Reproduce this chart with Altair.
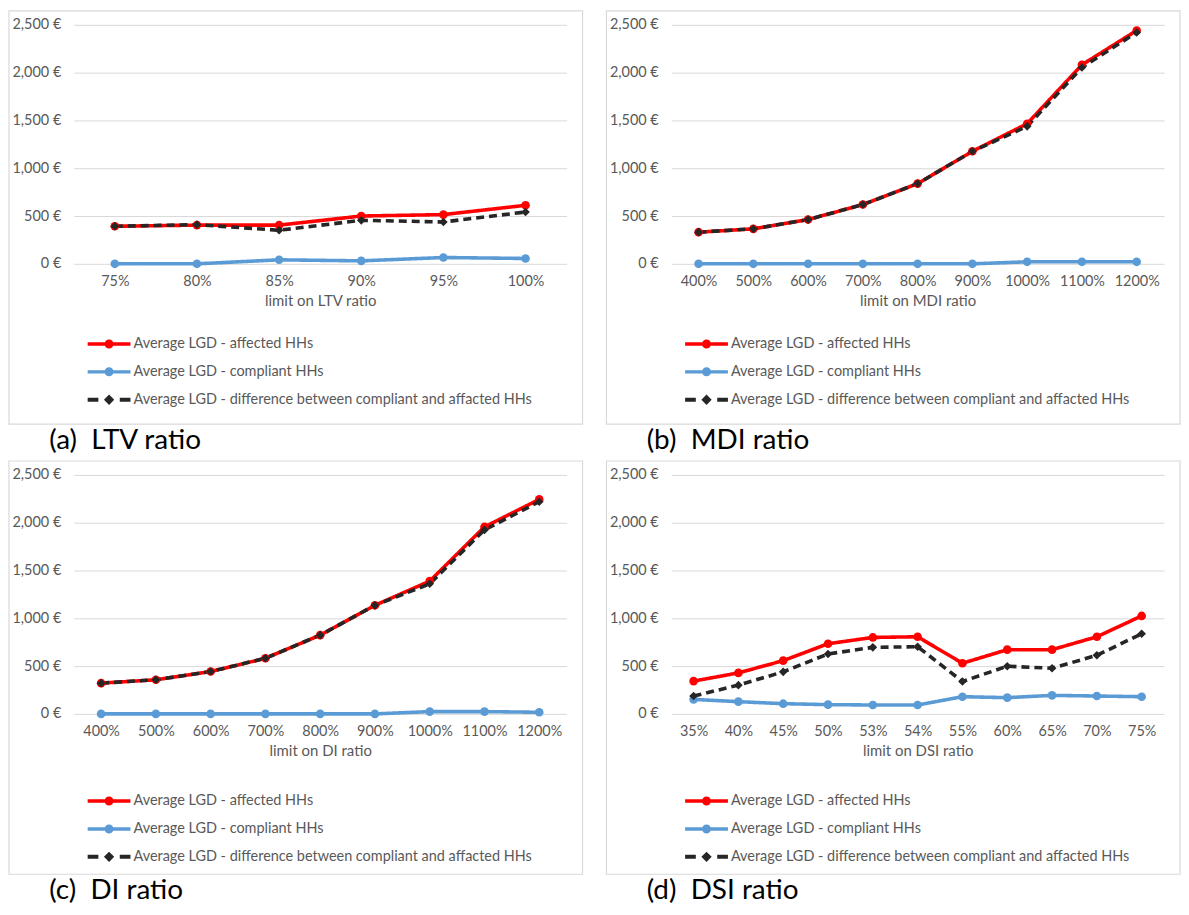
import altair as alt
import pandas as pd

SERIES = [
    "Average LGD - affected HHs",
    "Average LGD - compliant HHs",
    "Average LGD - difference between compliant and affacted HHs",
]
COLORS = ["#FF0000", "#5B9BD5", "#262626"]

# (a) LTV ratio
ltv_cats = ["75%", "80%", "85%", "90%", "95%", "100%"]
ltv_affected = [393, 405, 405, 500, 515, 612]
ltv_compliant = [0, 0, 42, 31, 66, 56]
ltv_diff = [393, 410, 351, 455, 438, 542]

# (b) MDI ratio
mdi_cats = ["400%", "500%", "600%", "700%", "800%", "900%", "1000%", "1100%", "1200%"]
mdi_affected = [331, 366, 463, 620, 839, 1177, 1466, 2082, 2441]
mdi_compliant = [0, 0, 0, 0, 0, 0, 21, 21, 21]
mdi_diff = [331, 366, 463, 620, 839, 1177, 1438, 2054, 2420]

# (c) DI ratio
di_cats = ["400%", "500%", "600%", "700%", "800%", "900%", "1000%", "1100%", "1200%"]
di_affected = [322, 357, 443, 582, 824, 1136, 1389, 1956, 2244]
di_compliant = [0, 0, 0, 0, 0, 0, 24, 24, 17]
di_diff = [322, 357, 443, 582, 824, 1136, 1361, 1925, 2220]

# (d) DSI ratio
dsi_cats = ["35%", "40%", "45%", "50%", "53%", "54%", "55%", "60%", "65%", "70%", "75%"]
dsi_affected = [343, 429, 557, 734, 800, 807, 530, 672, 672, 807, 1025]
dsi_compliant = [152, 128, 107, 97, 93, 93, 180, 170, 194, 187, 180]
dsi_diff = [187, 301, 440, 627, 696, 703, 339, 499, 478, 613, 838]

Y_TICKS = [0, 500, 1000, 1500, 2000, 2500]

FONT = "Lato"
GRAY = "#595959"
GRID = "#D9D9D9"
FS = 14.5

# legend symbols (line + marker), unit coordinates
LEG_LINE_DOT = (
    "M -1 -0.08 L 1 -0.08 L 1 0.08 L -1 0.08 Z "
    "M 0.21 0 A 0.21 0.21 0 1 1 -0.21 0 A 0.21 0.21 0 1 1 0.21 0 Z"
)
LEG_DASH_DIAMOND = (
    "M -1 -0.09 L -0.5 -0.09 L -0.5 0.09 L -1 0.09 Z "
    "M 0 -0.24 L 0.24 0 L 0 0.24 L -0.24 0 Z "
    "M 0.5 -0.09 L 1 -0.09 L 1 0.09 L 0.5 0.09 Z"
)
LEG_SHAPES = [LEG_LINE_DOT, LEG_LINE_DOT, LEG_DASH_DIAMOND]

W, H = 495, 240
FRAME_L, FRAME_R, FRAME_T, FRAME_B = -65, 511, -14, 401


def legend_def(ly):
    return alt.Legend(
        title=None,
        orient="none",
        legendX=14,
        legendY=ly,
        direction="vertical",
        symbolSize=1849,
        symbolOpacity=1,
        symbolStrokeWidth=0,
        labelFont=FONT,
        labelFontSize=FS,
        labelColor=GRAY,
        labelOffset=3,
        labelLimit=600,
        rowPadding=0,
    )


def panel(cats, affected, compliant, diff, xtitle, caption, ly):
    rows = []
    for s, vals in zip(SERIES, [affected, compliant, diff]):
        for c, v in zip(cats, vals):
            rows.append({"cat": c, "value": v, "series": s})
    df = pd.DataFrame(rows)

    x = alt.X(
        "cat:N",
        sort=cats,
        scale=alt.Scale(type="point", padding=0.5),
        axis=alt.Axis(
            title=xtitle,
            labelAngle=0,
            domain=False,
            ticks=False,
            labelPadding=11,
            labelFont=FONT,
            labelFontSize=FS,
            labelColor=GRAY,
            titleFont=FONT,
            titleFontSize=15,
            titleFontWeight="normal",
            titleColor=GRAY,
            titlePadding=5,
        ),
    )
    y = alt.Y(
        "value:Q",
        scale=alt.Scale(domain=[0, 2500]),
        axis=alt.Axis(
            title=None,
            values=Y_TICKS,
            labelExpr="format(datum.value, ',') + ' €'",
            domain=False,
            ticks=False,
            grid=True,
            gridColor=GRID,
            gridWidth=1,
            labelPadding=13,
            labelFont=FONT,
            labelFontSize=FS,
            labelColor=GRAY,
        ),
    )
    color_scale = alt.Scale(domain=SERIES, range=COLORS)
    base = alt.Chart(df)

    lines = base.mark_line(strokeWidth=3.6).encode(
        x=x,
        y=y,
        color=alt.Color("series:N", scale=color_scale, legend=None),
        strokeDash=alt.StrokeDash(
            "series:N",
            scale=alt.Scale(domain=SERIES, range=[[1, 0], [1, 0], [8, 5]]),
            legend=None,
        ),
    )
    points = base.mark_point(filled=True, size=75, opacity=1).encode(
        x=x,
        y=y,
        color=alt.Color("series:N", scale=color_scale, legend=None),
        shape=alt.Shape(
            "series:N",
            scale=alt.Scale(domain=SERIES, range=["circle", "circle", "diamond"]),
            legend=None,
        ),
    )
    legend_layer = base.mark_point(filled=True, size=1849, opacity=0).encode(
        x=x,
        y=y,
        color=alt.Color("series:N", scale=color_scale, legend=legend_def(ly)),
        shape=alt.Shape(
            "series:N",
            scale=alt.Scale(domain=SERIES, range=LEG_SHAPES),
            legend=legend_def(ly),
        ),
    )
    frame = (
        alt.Chart(pd.DataFrame({"f": [0]}))
        .mark_rect(fillOpacity=0, stroke=GRID, strokeWidth=1.2)
        .encode(
            x=alt.value(FRAME_L),
            x2=alt.value(FRAME_R),
            y=alt.value(FRAME_T),
            y2=alt.value(FRAME_B),
        )
    )
    return (
        alt.layer(frame, lines, points, legend_layer)
        .resolve_scale(color="independent", shape="independent", strokeDash="independent")
        .properties(
            width=W,
            height=H,
            title=alt.TitleParams(
                caption,
                orient="bottom",
                anchor="start",
                font=FONT,
                fontSize=28,
                fontWeight="normal",
                color="black",
                offset=2,
                dx=41,
            ),
        )
    )


pa = panel(ltv_cats, ltv_affected, ltv_compliant, ltv_diff, "limit on LTV ratio", "(a)\u00a0 LTV ratio", 299)
pb = panel(mdi_cats, mdi_affected, mdi_compliant, mdi_diff, "limit on MDI ratio", "(b)\u00a0 MDI ratio", 299)
pc = panel(di_cats, di_affected, di_compliant, di_diff, "limit on DI ratio", "(c)\u00a0 DI ratio", 306)
pd_ = panel(dsi_cats, dsi_affected, dsi_compliant, dsi_diff, "limit on DSI ratio", "(d)\u00a0 DSI ratio", 306)

chart = (
    alt.vconcat(
        alt.hconcat(pa, pb, spacing=22),
        alt.hconcat(pc, pd_, spacing=22),
        spacing=5,
    )
    .properties(padding=0, background="white")
    .configure_view(stroke=None)
)

chart.save("out.html", embed_options={"renderer": "svg", "actions": False})
